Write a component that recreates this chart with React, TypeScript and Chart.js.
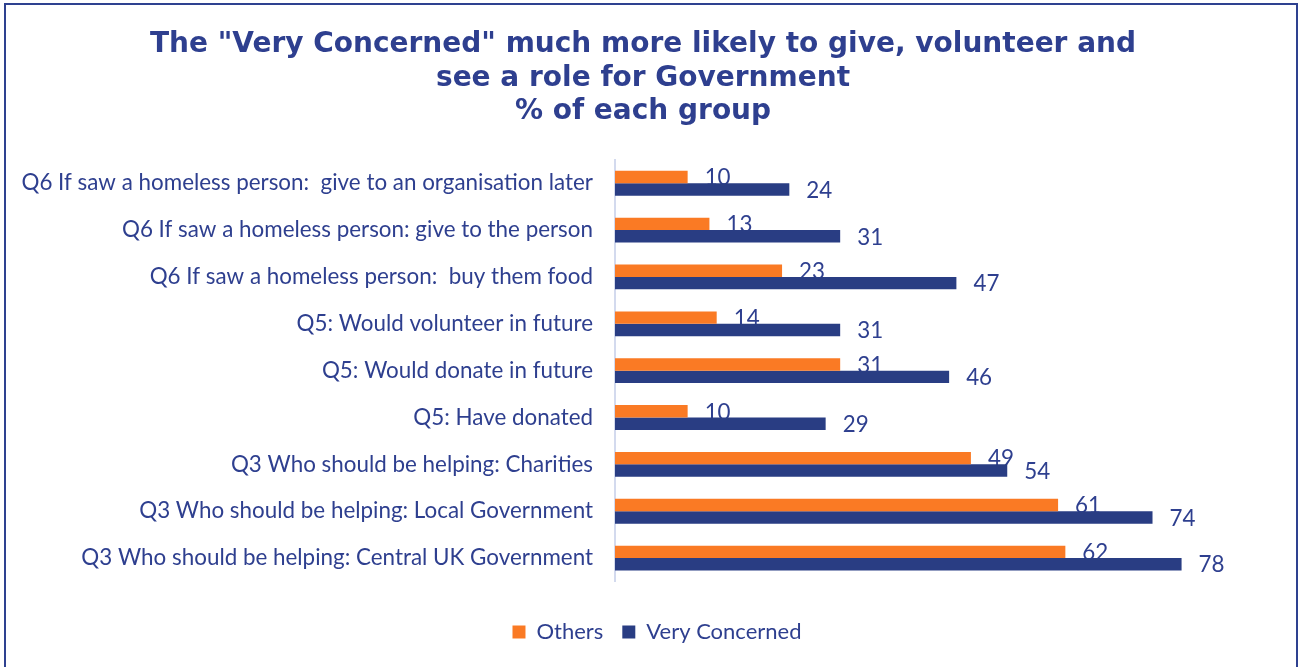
import React, { useEffect, useRef } from "react";
import { Chart, registerables } from "chart.js";

Chart.register(...registerables);

const categories = [
  "Q6 If saw a homeless person:  give to an organisation later",
  "Q6 If saw a homeless person: give to the person",
  "Q6 If saw a homeless person:  buy them food",
  "Q5: Would volunteer in future",
  "Q5: Would donate in future",
  "Q5: Have donated",
  "Q3 Who should be helping: Charities",
  "Q3 Who should be helping: Local Government",
  "Q3 Who should be helping: Central UK Government",
];
const othersValues = [10, 13, 23, 14, 31, 10, 49, 61, 62];
const veryConcernedValues = [24, 31, 47, 31, 46, 29, 54, 74, 78];
const titleLines = [
  'The "Very Concerned" much more likely to give, volunteer and',
  "see a role for Government",
  "% of each group",
];

const TEXT = "#2E3F8F";
const ORANGE = "#FA7A24";
const BLUE = "#293D83";
const LABEL_FONT = "Lato";

const labelPlugin = {
  id: "barLabels",
  afterLayout(chart: any) {
    if (chart.legend) {
      chart.legend.left += 14;
      chart.legend.right += 14;
    }
  },
  beforeDatasetsDraw(chart: any) {
    const ctx = chart.ctx;
    ctx.save();
    ctx.font = `22.4px ${LABEL_FONT}`;
    ctx.fillStyle = TEXT;
    ctx.textAlign = "left";
    ctx.textBaseline = "middle";
    chart.data.datasets.forEach((ds: any, di: number) => {
      const meta = chart.getDatasetMeta(di);
      meta.data.forEach((el: any, i: number) => {
        ctx.fillText(String(ds.data[i]), el.x + 17, el.y + 1);
      });
    });
    ctx.restore();
  },
};

export default function App() {
  const ref = useRef<HTMLCanvasElement>(null);
  useEffect(() => {
    if (!ref.current) return;
    const chart = new Chart(ref.current, {
      type: "bar",
      data: {
        labels: categories,
        datasets: [
          { label: "Others", data: othersValues, backgroundColor: ORANGE, categoryPercentage: 0.53, barPercentage: 1 },
          { label: "Very Concerned", data: veryConcernedValues, backgroundColor: BLUE, categoryPercentage: 0.53, barPercentage: 1 },
        ],
      },
      options: {
        indexAxis: "y",
        animation: false,
        responsive: false,
        maintainAspectRatio: false,
        layout: { padding: { left: 10, right: 24, top: 0, bottom: 14 } },
        scales: {
          x: {
            min: 0,
            max: 91,
            grid: { display: false },
            border: { display: false },
            ticks: { display: false },
            afterFit: (s: any) => { s.height = 20.5; },
          },
          y: {
            grid: { display: false, drawTicks: false },
            border: { display: true, color: "#D3DAEE", width: 2 },
            ticks: { color: TEXT, font: { family: LABEL_FONT, size: 22.4 }, padding: 22 },
            afterFit: (s: any) => { s.width = 605; },
          },
        },
        plugins: {
          tooltip: { enabled: false },
          title: {
            display: true,
            text: titleLines,
            color: TEXT,
            font: { family: "DejaVu Sans", size: 28, weight: "bold", lineHeight: 1.2 },
            padding: { top: 28, bottom: 31 },
          },
          legend: {
            position: "bottom",
            labels: {
              color: TEXT,
              font: { family: LABEL_FONT, size: 22 },
              boxWidth: 13,
              boxHeight: 13,
              padding: 19,
            },
          },
        },
      },
      plugins: [labelPlugin],
    });
    return () => chart.destroy();
  }, []);
  return (
    <div style={{ position: "fixed", left: 0, top: 0, width: 1300, height: 667, overflow: "hidden", background: "#fff" }}>
      <div style={{ position: "absolute", left: 4, top: 3, width: 1290, height: 720, border: "2px solid #2E4190" }} />
      <canvas ref={ref} width={1300} height={667} style={{ position: "absolute", left: 0, top: 0, width: 1300, height: 667 }} />
    </div>
  );
}
